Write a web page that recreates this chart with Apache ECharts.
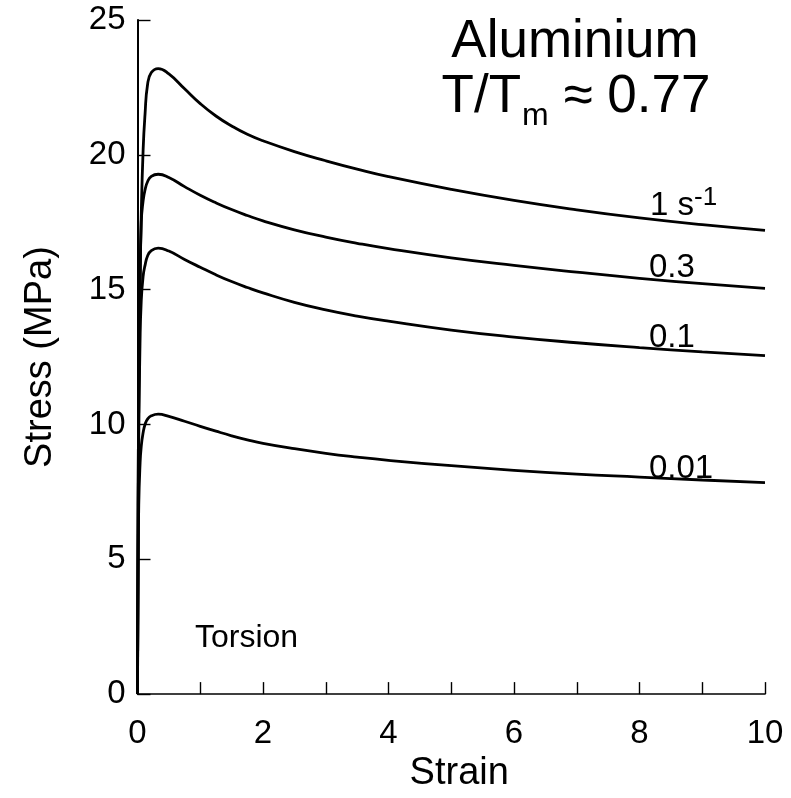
<!DOCTYPE html>
<html>
<head>
<meta charset="utf-8">
<script src="https://cdn.jsdelivr.net/npm/echarts@6/dist/echarts.min.js"></script>
<style>
html,body{margin:0;padding:0;background:#fff;}
#chart{width:791px;height:798px;}
</style>
</head>
<body>
<div id="chart"></div>
<script>
// Strain sample points (shared by all curves)
var strain = [0, 0.01, 0.02, 0.04, 0.06, 0.09, 0.12, 0.16, 0.22, 0.33, 0.5, 0.75, 1.0, 1.25, 1.5, 1.75, 2, 2.5, 3, 3.5, 4, 5, 6, 7, 8, 9, 10];
// Stress (MPa) for each strain rate
var rate1   = [0, 7, 11, 15, 17.8, 20.2, 21.5, 22.6, 23.05, 23.2, 23.0, 22.45, 21.9, 21.44, 21.07, 20.76, 20.52, 20.12, 19.78, 19.47, 19.19, 18.72, 18.31, 17.96, 17.66, 17.41, 17.2];
var rate03  = [0, 7, 11, 15, 17.5, 18.3, 18.7, 19.0, 19.2, 19.28, 19.16, 18.82, 18.5, 18.22, 17.97, 17.75, 17.55, 17.22, 16.95, 16.72, 16.52, 16.18, 15.9, 15.65, 15.42, 15.22, 15.05];
var rate01  = [0, 6, 9.5, 13, 14.6, 15.5, 15.9, 16.25, 16.45, 16.54, 16.43, 16.12, 15.83, 15.55, 15.3, 15.08, 14.88, 14.53, 14.25, 14.02, 13.83, 13.5, 13.24, 13.03, 12.85, 12.69, 12.55];
var rate001 = [0, 4.5, 7, 8.5, 9.2, 9.7, 10.0, 10.2, 10.32, 10.38, 10.3, 10.12, 9.93, 9.75, 9.58, 9.43, 9.3, 9.1, 8.93, 8.79, 8.67, 8.47, 8.3, 8.16, 8.05, 7.94, 7.84];
var seriesList = [rate1, rate03, rate01, rate001];
var xTicks = [0, 2, 4, 6, 8, 10];

var FONT = "'Liberation Sans', Arial, sans-serif";

function pairs(ys) {
  return strain.map(function (x, i) { return [x, ys[i]]; });
}

var chart = echarts.init(document.getElementById('chart'), null, {renderer: 'canvas'});
var option = {
  backgroundColor: '#ffffff',
  animation: false,
  grid: {left: 137.5, top: 20, width: 627.5, height: 677},
  xAxis: {
    type: 'value', min: 0, max: 10, interval: 1,
    name: 'Strain', nameLocation: 'middle', nameGap: 60,
    nameTextStyle: {fontSize: 38, color: '#000', fontFamily: FONT, padding: [0, 0, 0, 16]},
    axisLine: {show: true, onZero: false, lineStyle: {color: '#000', width: 1.6}},
    axisTick: {show: true, inside: true, length: 12, lineStyle: {color: '#000', width: 1.4}},
    axisLabel: {
      fontSize: 33, color: '#000', fontFamily: FONT, margin: 23,
      formatter: function (v) { return xTicks.indexOf(v) >= 0 ? String(v) : ''; }
    },
    splitLine: {show: false}
  },
  yAxis: {
    type: 'value', min: 0, max: 25, interval: 5,
    name: 'Stress (MPa)', nameLocation: 'middle', nameGap: 78, nameRotate: 90,
    nameTextStyle: {fontSize: 38, color: '#000', fontFamily: FONT},
    axisLine: {show: true, onZero: false, lineStyle: {color: '#000', width: 2}},
    axisTick: {show: true, inside: true, length: 13, lineStyle: {color: '#000', width: 1.4}},
    axisLabel: {fontSize: 33, color: '#000', fontFamily: FONT, margin: 12, padding: [8, 0, 0, 0]},
    splitLine: {show: false}
  },
  series: seriesList.map(function (ys) {
    return {
      type: 'line', data: pairs(ys), showSymbol: false, smooth: 0.5,
      lineStyle: {color: '#000', width: 2.8}, z: 3
    };
  }),
  graphic: [
    {type: 'text', x: 575, y: 42, style: {text: 'Aluminium', font: '53px ' + FONT, fill: '#000', align: 'center', verticalAlign: 'middle'}},
    {type: 'text', x: 576, y: 71, style: {
      text: '{a|T/T}{s|m}{a| \u2248 0.77}', align: 'center', verticalAlign: 'top', fill: '#000',
      rich: {
        a: {fontSize: 53, fontFamily: FONT, color: '#000', verticalAlign: 'top'},
        s: {fontSize: 32, fontFamily: FONT, color: '#000', verticalAlign: 'top', padding: [29, 0, 0, 1]}
      }
    }},
    {type: 'text', x: 650, y: 185, style: {
      text: '{m|1 s}{p|-1}', align: 'left', verticalAlign: 'top', fill: '#000',
      rich: {
        m: {fontSize: 33, fontFamily: FONT, color: '#000', verticalAlign: 'top', padding: [4, 0, 0, 0]},
        p: {fontSize: 26, fontFamily: FONT, color: '#000', verticalAlign: 'top'}
      }
    }},
    {type: 'text', x: 649, y: 268, style: {text: '0.3', font: '33px ' + FONT, fill: '#000', align: 'left', verticalAlign: 'middle'}},
    {type: 'text', x: 649, y: 337.5, style: {text: '0.1', font: '33px ' + FONT, fill: '#000', align: 'left', verticalAlign: 'middle'}},
    {type: 'text', x: 649, y: 469, style: {text: '0.01', font: '33px ' + FONT, fill: '#000', align: 'left', verticalAlign: 'middle'}},
    {type: 'text', x: 195, y: 638, style: {text: 'Torsion', font: '32px ' + FONT, fill: '#000', align: 'left', verticalAlign: 'middle'}}
  ]
};
chart.setOption(option);
</script>
</body>
</html>
